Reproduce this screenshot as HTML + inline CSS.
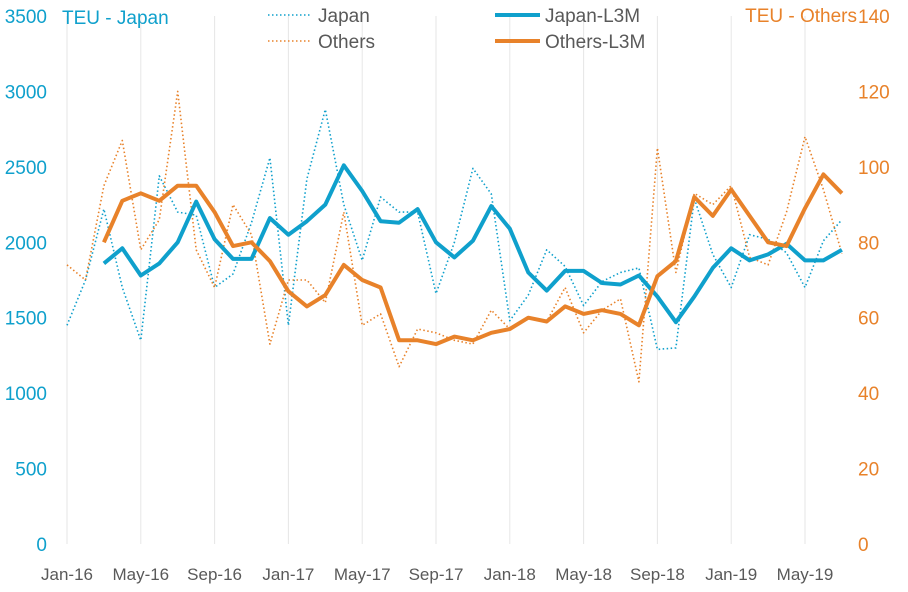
<!DOCTYPE html>
<html><head><meta charset="utf-8"><style>
html,body{margin:0;padding:0;background:#fff;}
svg text{font-family:"Liberation Sans",sans-serif;}
</style></head><body>
<svg id="c" width="908" height="587" xmlns="http://www.w3.org/2000/svg"></svg>
<script>
const B="#0fa0cc",O="#e8822a";
const jp=[1450,1750,2220,1700,1350,2440,2200,2180,1700,1790,2130,2560,1450,2420,2880,2250,1880,2300,2200,2200,1660,2000,2490,2320,1480,1650,1950,1840,1580,1740,1800,1830,1290,1300,2290,1920,1700,2050,2020,1930,1700,2010,2150];
const jl=[1860,1960,1780,1860,2000,2270,2020,1890,1890,2160,2050,2140,2250,2510,2340,2140,2130,2220,2000,1900,2010,2240,2090,1800,1680,1810,1810,1730,1720,1780,1640,1470,1640,1830,1960,1880,1920,1990,1880,1880,1950];
const ot=[74,70,95,107,78,86,120,78,68,90,82,53,70,70,64,88,58,61,47,57,56,54,53,62,57,60,59,68,56,62,65,43,105,72,93,90,95,76,74,88,108,94,77];
const ol=[80,91,93,91,95,95,88,79,80,75,67,63,66,74,70,68,54,54,53,55,54,56,57,60,59,63,61,62,61,58,71,75,92,87,94,87,80,79,89,98,93];
const X=i=>67+18.45*i, YL=v=>544-v*528/3500, YR=v=>544-v*528/140;
let s="";
const labs=["Jan-16","May-16","Sep-16","Jan-17","May-17","Sep-17","Jan-18","May-18","Sep-18","Jan-19","May-19"];
labs.forEach((l,k)=>{const x=X(4*k);s+=`<line x1="${x}" y1="16" x2="${x}" y2="544" stroke="#e6e6e6" stroke-width="1"/>`;s+=`<text x="${x}" y="580" font-size="17" fill="#595959" text-anchor="middle">${l}</text>`;});
for(let v=0;v<=3500;v+=500)s+=`<text x="47" y="${YL(v)+7}" font-size="19" fill="${B}" text-anchor="end">${v}</text>`;
for(let v=0;v<=140;v+=20)s+=`<text x="858" y="${YR(v)+7}" font-size="19" fill="${O}">${v}</text>`;
const pl=(a,off,f,c,w,d)=>`<polyline fill="none" stroke="${c}" stroke-width="${w}" ${d?'stroke-dasharray="1.5 2.5"':''} stroke-linejoin="round" points="${a.map((v,i)=>X(i+off).toFixed(1)+','+f(v).toFixed(1)).join(' ')}"/>`;
s+=pl(jp,0,YL,B,1.6,1)+pl(ot,0,YR,O,1.6,1)+pl(jl,2,YL,B,4,0)+pl(ol,2,YR,O,4,0);
s+=`<text x="62" y="24" font-size="19" fill="${B}">TEU - Japan</text>`;
s+=`<text x="857" y="22" font-size="19" fill="${O}" text-anchor="end">TEU - Others</text>`;
s+=`<line x1="268" y1="15" x2="312" y2="15" stroke="${B}" stroke-width="1.6" stroke-dasharray="1.5 2.5"/><text x="318" y="22" font-size="19" fill="#595959">Japan</text>`;
s+=`<line x1="268" y1="41" x2="312" y2="41" stroke="${O}" stroke-width="1.6" stroke-dasharray="1.5 2.5"/><text x="318" y="48" font-size="19" fill="#595959">Others</text>`;
s+=`<line x1="495" y1="15" x2="540" y2="15" stroke="${B}" stroke-width="4"/><text x="545" y="22" font-size="19" fill="#595959">Japan-L3M</text>`;
s+=`<line x1="495" y1="41" x2="540" y2="41" stroke="${O}" stroke-width="4"/><text x="545" y="48" font-size="19" fill="#595959">Others-L3M</text>`;
document.getElementById("c").innerHTML=s;
</script>
</body></html>
